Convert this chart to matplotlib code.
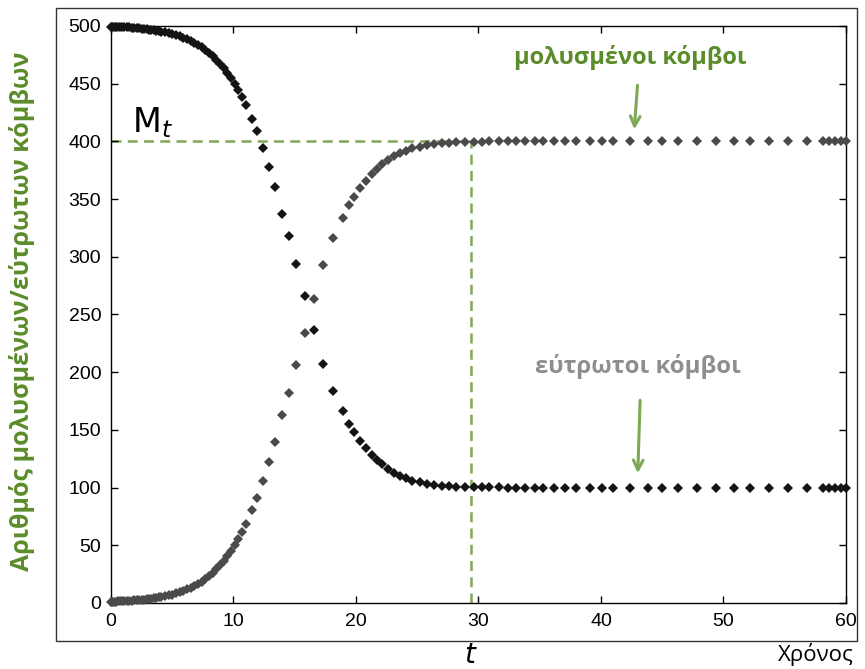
import matplotlib
matplotlib.use('Agg')
import matplotlib.pyplot as plt
from matplotlib.patches import Rectangle

# time points of the solver output
time = [0.0, 0.1, 0.2, 0.3, 0.45, 0.6, 0.75, 0.9, 1.1, 1.3, 1.5, 1.7, 1.9, 2.1, 2.3,
        2.5, 2.7, 2.9, 3.1, 3.3, 3.5, 3.7, 3.9, 4.1, 4.4, 4.7, 5.0, 5.3, 5.6, 5.9,
        6.2, 6.5, 6.8, 7.1, 7.4, 7.7, 8.0, 8.3, 8.6, 8.9, 9.2, 9.5, 9.8, 10.1, 10.4,
        10.7, 11.0, 11.5, 11.9, 12.4, 12.9, 13.4, 14.0, 14.5, 15.1, 15.8, 16.6, 17.3,
        18.1, 18.9, 19.4, 19.8, 20.3, 20.8, 21.3, 21.7, 22.1, 22.6, 23.1, 23.6, 24.1,
        24.6, 25.2, 25.8, 26.4, 27.0, 27.6, 28.2, 28.9, 29.6, 30.3, 30.9, 31.7, 32.4,
        33.1, 33.8, 34.6, 35.3, 36.2, 37.1, 38.0, 39.1, 40.1, 41.0, 42.4, 43.8, 45.0,
        46.3, 47.8, 49.4, 50.9, 52.2, 53.7, 55.3, 56.8, 58.1, 58.6, 59.1, 59.6, 60.0]

# infected nodes (grey)
infected = [1.0, 1.1, 1.1, 1.1, 1.2, 1.3, 1.4, 1.4, 1.6, 1.7, 1.8, 2.0, 2.2, 2.3, 2.5,
            2.7, 3.0, 3.2, 3.5, 3.8, 4.1, 4.4, 4.8, 5.2, 5.8, 6.5, 7.3, 8.3, 9.3, 10.4,
            11.7, 13.2, 14.8, 16.6, 18.6, 20.8, 23.4, 26.1, 29.2, 32.7, 36.5, 40.6, 45.2,
            50.3, 55.8, 61.8, 68.4, 80.5, 91.1, 106.1, 122.3, 139.9, 162.6, 182.1, 206.0,
            233.6, 263.7, 293.0, 316.0, 334.0, 345.0, 352.0, 360.0, 366.0, 372.0, 376.0,
            380.0, 384.0, 387.0, 390.0, 392.0, 394.0, 395.5, 396.5, 397.5, 398.3, 398.8,
            399.2, 399.5, 399.7, 399.8, 399.9, 399.9, 400.0, 400.0, 400.0, 400.0, 400.0,
            400.0, 400.0, 400.0, 400.0, 400.0, 400.0, 400.0, 400.0, 400.0, 400.0, 400.0,
            400.0, 400.0, 400.0, 400.0, 400.0, 400.0, 400.0, 400.0, 400.0, 400.0, 400.0]

# susceptible nodes (black)
susceptible = [499.5, 499.4, 499.4, 499.3, 499.3, 499.2, 499.1, 499.0, 498.9, 498.8,
               498.7, 498.5, 498.3, 498.1, 497.9, 497.7, 497.4, 497.1, 496.8, 496.5,
               496.2, 495.8, 495.4, 495.0, 494.4, 493.7, 492.9, 491.9, 490.9, 489.7,
               488.4, 486.9, 485.2, 483.4, 481.4, 479.2, 476.6, 473.9, 470.8, 467.3,
               463.5, 459.4, 454.8, 449.7, 444.2, 438.2, 431.6, 419.5, 408.9, 393.9,
               377.7, 360.1, 337.4, 317.9, 294.0, 266.4, 236.3, 207.0, 184.0, 166.0,
               155.0, 148.0, 140.0, 134.0, 128.0, 124.0, 120.0, 116.0, 113.0, 110.0,
               108.0, 106.0, 104.5, 103.5, 102.5, 101.7, 101.2, 100.8, 100.5, 100.3,
               100.2, 100.1, 100.1, 100.0, 100.0, 100.0, 100.0, 100.0, 100.0, 100.0,
               100.0, 100.0, 100.0, 100.0, 100.0, 100.0, 100.0, 100.0, 100.0, 100.0,
               100.0, 100.0, 100.0, 100.0, 100.0, 100.0, 100.0, 100.0, 100.0, 100.0]

t_mark = 29.4
m_level = 400

green_txt = '#5b8c2a'
green_line = '#7fa855'

fig = plt.figure(figsize=(8.65, 6.69), dpi=100)
ax = fig.add_axes([0.1283, 0.0987, 0.8497, 0.8625])

ax.plot([0, t_mark], [m_level, m_level], ls=(0, (4, 2.5)), color=green_line, lw=1.8, zorder=1)
ax.plot([t_mark, t_mark], [0, m_level], ls=(0, (4, 2.5)), color=green_line, lw=1.8, zorder=1)

ax.plot(time, infected, 'D', color='#4a4a4a', ms=5.3, mew=0, zorder=3, clip_on=False)
ax.plot(time, susceptible, 'D', color='#141414', ms=5.3, mew=0, zorder=4, clip_on=False)

ax.set_xlim(0, 60)
ax.set_ylim(0, 500)
ax.set_xticks(range(0, 61, 10))
ax.set_yticks(range(0, 501, 50))
ax.tick_params(direction='in', top=True, right=True, length=5, width=1,
               labelsize=14, pad=7)
for lab in ax.get_xticklabels() + ax.get_yticklabels():
    lab.set_fontfamily('Liberation Sans')
for s in ax.spines.values():
    s.set_linewidth(1.0)

ax.text(1.7, 401, r'$\mathrm{M}_t$', fontsize=24, ha='left', va='bottom')

ax.text(42.4, 473, 'μολυσμένοι κόμβοι', color=green_txt, fontsize=17,
        fontweight='bold', family='Open Sans', ha='center', va='center')
ax.annotate('', xy=(42.7, 408), xytext=(43.0, 451),
            arrowprops=dict(arrowstyle='->,head_length=0.7,head_width=0.35',
                            color=green_line, lw=2.2))

ax.text(43.0, 205, 'εύτρωτοι κόμβοι', color='#8e8e8e', fontsize=17.2,
        fontweight='bold', family='Open Sans', ha='center', va='center')
ax.annotate('', xy=(43.0, 110), xytext=(43.2, 178),
            arrowprops=dict(arrowstyle='->,head_length=0.7,head_width=0.35',
                            color=green_line, lw=2.2))

fig.text(0.0254, 0.535, 'Αριθμός μολυσμένων/εύτρωτων κόμβων', rotation=90,
         color=green_txt, fontsize=18, fontweight='bold', family='Open Sans',
         ha='center', va='center')
fig.text(470 / 865, 1 - 655 / 669, 't', fontsize=20, style='italic',
         family='DejaVu Sans', ha='center', va='center')
fig.text(816 / 865, 1 - 655 / 669, 'Χρόνος', fontsize=16, family='Open Sans',
         ha='center', va='center')

fig.add_artist(Rectangle((56 / 865, 1 - 641 / 669), 801 / 865, 633 / 669,
                         transform=fig.transFigure, fill=False,
                         edgecolor='#333333', lw=1.0))

plt.savefig('out.png', dpi=100)
